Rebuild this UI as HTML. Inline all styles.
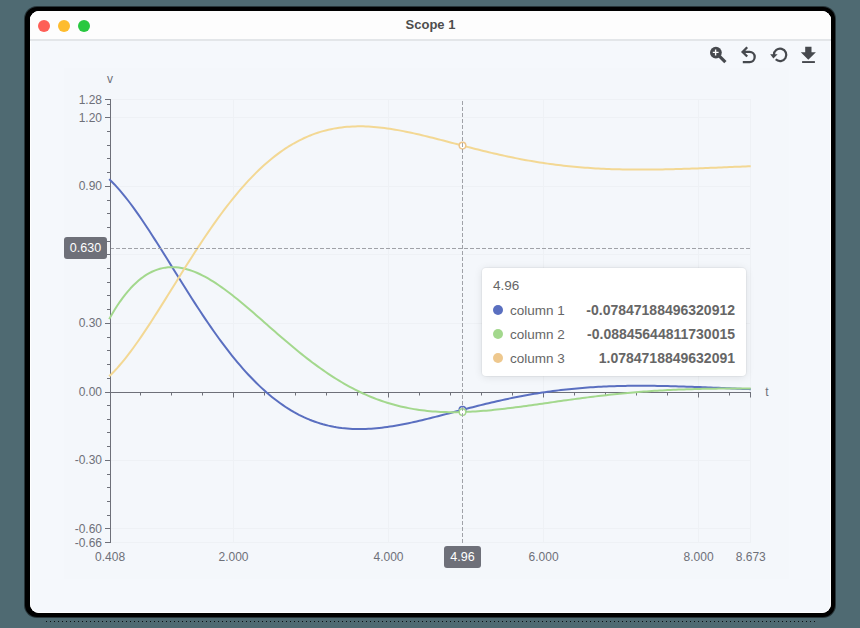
<!DOCTYPE html>
<html><head><meta charset="utf-8">
<style>
html,body{margin:0;padding:0;}
body{width:860px;height:628px;background:#4f6a72;position:relative;overflow:hidden;font-family:"Liberation Sans",sans-serif;}
.win{position:absolute;left:25px;top:7px;width:810px;height:610px;background:#000;border-radius:12px;box-shadow:0 0 0 1px rgba(0,0,0,0.5);}
.inner{position:absolute;left:30px;top:11px;width:801px;height:602px;background:#f5f8fc;border-radius:9px;overflow:hidden;box-shadow:inset 0 0 0 1px #fff;}
.title{position:absolute;left:0;top:0;width:100%;height:28px;background:#fdfdfd;border-bottom:2px solid #e3e6e9;}
.tl{position:absolute;top:8.6px;width:12px;height:12px;border-radius:50%;}
.ttext{position:absolute;left:0;width:100%;top:6px;text-align:center;font-weight:bold;font-size:13px;color:#4d4d4d;}
svg{position:absolute;left:0;top:0;}
.panel{position:absolute;left:34px;top:57px;width:725px;height:511px;background:#f4f7fb;}
.tip{position:absolute;left:482px;top:268px;width:264px;height:108px;background:#fff;border-radius:4px;box-shadow:0 0 0 1px rgba(0,0,0,0.035),0 1px 8px rgba(0,0,0,0.1);box-sizing:border-box;font-size:14px;color:#666;}
.tip .h{position:absolute;left:11px;top:10px;font-size:13.5px;}
.tip .r{position:absolute;left:11px;width:242px;height:20px;}
.tip .d{position:absolute;left:0;top:5px;width:10px;height:10px;border-radius:50%;}
.tip .n{position:absolute;left:17px;top:2.5px;font-size:13.5px;}
.tip .v{position:absolute;right:0;top:2px;font-weight:bold;}
.apl{position:absolute;background:#6e7079;color:#fff;font-size:12.5px;border-radius:3px;text-align:center;}
</style></head><body>
<div class="win"></div>
<div style="position:absolute;left:46px;top:621px;width:769px;height:1px;background:repeating-linear-gradient(90deg,rgba(0,0,0,0.85) 0 1px,transparent 1px 4px);"></div>
<div class="inner"><div class="panel"></div>

 <div class="title">
  <div class="tl" style="left:8px;background:#fe5f57"></div>
  <div class="tl" style="left:28px;background:#febc2e"></div>
  <div class="tl" style="left:48px;background:#28c840"></div>
  <div class="ttext">Scope 1</div>
 </div>
</div>
<svg width="860" height="628" viewBox="0 0 860 628">
<g><line x1="111" x2="751" y1="99.5" y2="99.5" stroke="#eef1f5" stroke-width="1"/><line x1="111" x2="751" y1="117.5" y2="117.5" stroke="#eef1f5" stroke-width="1"/><line x1="111" x2="751" y1="186.5" y2="186.5" stroke="#eef1f5" stroke-width="1"/><line x1="111" x2="751" y1="254.5" y2="254.5" stroke="#eef1f5" stroke-width="1"/><line x1="111" x2="751" y1="323.5" y2="323.5" stroke="#eef1f5" stroke-width="1"/><line x1="111" x2="751" y1="460.5" y2="460.5" stroke="#eef1f5" stroke-width="1"/><line x1="111" x2="751" y1="528.5" y2="528.5" stroke="#eef1f5" stroke-width="1"/><line x1="111" x2="751" y1="542.5" y2="542.5" stroke="#eef1f5" stroke-width="1"/><line x1="233.5" x2="233.5" y1="100" y2="543" stroke="#eef1f5" stroke-width="1"/><line x1="388.5" x2="388.5" y1="100" y2="543" stroke="#eef1f5" stroke-width="1"/><line x1="543.5" x2="543.5" y1="100" y2="543" stroke="#eef1f5" stroke-width="1"/><line x1="698.5" x2="698.5" y1="100" y2="543" stroke="#eef1f5" stroke-width="1"/><line x1="750.5" x2="750.5" y1="100" y2="543" stroke="#eef1f5" stroke-width="1"/><line x1="110.5" x2="110.5" y1="99" y2="543" stroke="#6e7079" stroke-width="1"/><line x1="105" x2="110" y1="99.5" y2="99.5" stroke="#6e7079" stroke-width="1"/><line x1="105" x2="110" y1="117.5" y2="117.5" stroke="#6e7079" stroke-width="1"/><line x1="105" x2="110" y1="186.5" y2="186.5" stroke="#6e7079" stroke-width="1"/><line x1="105" x2="110" y1="254.5" y2="254.5" stroke="#6e7079" stroke-width="1"/><line x1="105" x2="110" y1="323.5" y2="323.5" stroke="#6e7079" stroke-width="1"/><line x1="105" x2="110" y1="392.5" y2="392.5" stroke="#6e7079" stroke-width="1"/><line x1="105" x2="110" y1="460.5" y2="460.5" stroke="#6e7079" stroke-width="1"/><line x1="105" x2="110" y1="528.5" y2="528.5" stroke="#6e7079" stroke-width="1"/><line x1="105" x2="110" y1="542.5" y2="542.5" stroke="#6e7079" stroke-width="1"/><line x1="107" x2="110" y1="104.5" y2="104.5" stroke="#6e7079" stroke-width="1"/><line x1="107" x2="110" y1="131.5" y2="131.5" stroke="#6e7079" stroke-width="1"/><line x1="107" x2="110" y1="145.5" y2="145.5" stroke="#6e7079" stroke-width="1"/><line x1="107" x2="110" y1="158.5" y2="158.5" stroke="#6e7079" stroke-width="1"/><line x1="107" x2="110" y1="172.5" y2="172.5" stroke="#6e7079" stroke-width="1"/><line x1="107" x2="110" y1="200.5" y2="200.5" stroke="#6e7079" stroke-width="1"/><line x1="107" x2="110" y1="213.5" y2="213.5" stroke="#6e7079" stroke-width="1"/><line x1="107" x2="110" y1="227.5" y2="227.5" stroke="#6e7079" stroke-width="1"/><line x1="107" x2="110" y1="241.5" y2="241.5" stroke="#6e7079" stroke-width="1"/><line x1="107" x2="110" y1="268.5" y2="268.5" stroke="#6e7079" stroke-width="1"/><line x1="107" x2="110" y1="282.5" y2="282.5" stroke="#6e7079" stroke-width="1"/><line x1="107" x2="110" y1="295.5" y2="295.5" stroke="#6e7079" stroke-width="1"/><line x1="107" x2="110" y1="309.5" y2="309.5" stroke="#6e7079" stroke-width="1"/><line x1="107" x2="110" y1="337.5" y2="337.5" stroke="#6e7079" stroke-width="1"/><line x1="107" x2="110" y1="350.5" y2="350.5" stroke="#6e7079" stroke-width="1"/><line x1="107" x2="110" y1="364.5" y2="364.5" stroke="#6e7079" stroke-width="1"/><line x1="107" x2="110" y1="378.5" y2="378.5" stroke="#6e7079" stroke-width="1"/><line x1="107" x2="110" y1="405.5" y2="405.5" stroke="#6e7079" stroke-width="1"/><line x1="107" x2="110" y1="419.5" y2="419.5" stroke="#6e7079" stroke-width="1"/><line x1="107" x2="110" y1="432.5" y2="432.5" stroke="#6e7079" stroke-width="1"/><line x1="107" x2="110" y1="446.5" y2="446.5" stroke="#6e7079" stroke-width="1"/><line x1="107" x2="110" y1="474.5" y2="474.5" stroke="#6e7079" stroke-width="1"/><line x1="107" x2="110" y1="487.5" y2="487.5" stroke="#6e7079" stroke-width="1"/><line x1="107" x2="110" y1="501.5" y2="501.5" stroke="#6e7079" stroke-width="1"/><line x1="107" x2="110" y1="515.5" y2="515.5" stroke="#6e7079" stroke-width="1"/><line x1="110" x2="751" y1="392.5" y2="392.5" stroke="#6e7079" stroke-width="1"/><line x1="110.5" x2="110.5" y1="392.5" y2="397.5" stroke="#6e7079" stroke-width="1"/><line x1="233.5" x2="233.5" y1="392.5" y2="397.5" stroke="#6e7079" stroke-width="1"/><line x1="388.5" x2="388.5" y1="392.5" y2="397.5" stroke="#6e7079" stroke-width="1"/><line x1="543.5" x2="543.5" y1="392.5" y2="397.5" stroke="#6e7079" stroke-width="1"/><line x1="698.5" x2="698.5" y1="392.5" y2="397.5" stroke="#6e7079" stroke-width="1"/><line x1="750.5" x2="750.5" y1="392.5" y2="397.5" stroke="#6e7079" stroke-width="1"/><line x1="140.5" x2="140.5" y1="392.5" y2="395.5" stroke="#6e7079" stroke-width="1"/><line x1="171.5" x2="171.5" y1="392.5" y2="395.5" stroke="#6e7079" stroke-width="1"/><line x1="202.5" x2="202.5" y1="392.5" y2="395.5" stroke="#6e7079" stroke-width="1"/><line x1="264.5" x2="264.5" y1="392.5" y2="395.5" stroke="#6e7079" stroke-width="1"/><line x1="295.5" x2="295.5" y1="392.5" y2="395.5" stroke="#6e7079" stroke-width="1"/><line x1="326.5" x2="326.5" y1="392.5" y2="395.5" stroke="#6e7079" stroke-width="1"/><line x1="357.5" x2="357.5" y1="392.5" y2="395.5" stroke="#6e7079" stroke-width="1"/><line x1="419.5" x2="419.5" y1="392.5" y2="395.5" stroke="#6e7079" stroke-width="1"/><line x1="450.5" x2="450.5" y1="392.5" y2="395.5" stroke="#6e7079" stroke-width="1"/><line x1="481.5" x2="481.5" y1="392.5" y2="395.5" stroke="#6e7079" stroke-width="1"/><line x1="512.5" x2="512.5" y1="392.5" y2="395.5" stroke="#6e7079" stroke-width="1"/><line x1="574.5" x2="574.5" y1="392.5" y2="395.5" stroke="#6e7079" stroke-width="1"/><line x1="605.5" x2="605.5" y1="392.5" y2="395.5" stroke="#6e7079" stroke-width="1"/><line x1="636.5" x2="636.5" y1="392.5" y2="395.5" stroke="#6e7079" stroke-width="1"/><line x1="667.5" x2="667.5" y1="392.5" y2="395.5" stroke="#6e7079" stroke-width="1"/><line x1="729.5" x2="729.5" y1="392.5" y2="395.5" stroke="#6e7079" stroke-width="1"/></g>
<g font-family="Liberation Sans" font-size="12" fill="#6e7079"><text x="102" y="103.62599999999998" text-anchor="end">1.28</text><text x="102" y="121.89000000000004" text-anchor="end">1.20</text><text x="102" y="190.38" text-anchor="end">0.90</text><text x="102" y="327.36" text-anchor="end">0.30</text><text x="102" y="395.85" text-anchor="end">0.00</text><text x="102" y="464.34000000000003" text-anchor="end">-0.30</text><text x="102" y="532.83" text-anchor="end">-0.60</text><text x="102" y="546.528" text-anchor="end">-0.66</text><text x="110.086936" y="560.7" text-anchor="middle">0.408</text><text x="233.49399999999997" y="560.7" text-anchor="middle">2.000</text><text x="388.52799999999996" y="560.7" text-anchor="middle">4.000</text><text x="543.562" y="560.7" text-anchor="middle">6.000</text><text x="698.596" y="560.7" text-anchor="middle">8.000</text><text x="750.764941" y="560.7" text-anchor="middle">8.673</text><text x="110" y="83" text-anchor="middle">v</text><text x="767" y="396" text-anchor="middle">t</text></g>
<g><path d="M109.16,179.10 L111.83,181.69 L114.50,184.44 L117.18,187.34 L119.85,190.38 L122.52,193.55 L125.20,196.84 L127.87,200.25 L130.54,203.77 L133.22,207.39 L135.89,211.11 L138.56,214.90 L141.24,218.78 L143.91,222.73 L146.58,226.74 L149.26,230.81 L151.93,234.93 L154.60,239.09 L157.28,243.29 L159.95,247.52 L162.62,251.78 L165.30,256.05 L167.97,260.34 L170.64,264.64 L173.32,268.94 L175.99,273.24 L178.66,277.53 L181.34,281.81 L184.01,286.07 L186.68,290.32 L189.36,294.53 L192.03,298.72 L194.70,302.88 L197.38,307.00 L200.05,311.07 L202.72,315.11 L205.40,319.09 L208.07,323.03 L210.74,326.92 L213.42,330.74 L216.09,334.51 L218.76,338.22 L221.44,341.87 L224.11,345.45 L226.78,348.96 L229.46,352.41 L232.13,355.78 L234.81,359.08 L237.48,362.31 L240.15,365.47 L242.83,368.54 L245.50,371.54 L248.17,374.47 L250.85,377.31 L253.52,380.07 L256.19,382.76 L258.87,385.36 L261.54,387.88 L264.21,390.33 L266.89,392.69 L269.56,394.97 L272.23,397.17 L274.91,399.29 L277.58,401.32 L280.25,403.28 L282.93,405.16 L285.60,406.96 L288.27,408.68 L290.95,410.32 L293.62,411.89 L296.29,413.37 L298.97,414.79 L301.64,416.12 L304.31,417.39 L306.99,418.58 L309.66,419.70 L312.33,420.75 L315.01,421.73 L317.68,422.64 L320.35,423.49 L323.03,424.27 L325.70,424.98 L328.37,425.63 L331.05,426.22 L333.72,426.76 L336.39,427.23 L339.07,427.64 L341.74,428.00 L344.41,428.30 L347.09,428.55 L349.76,428.75 L352.43,428.90 L355.11,429.01 L357.78,429.06 L360.45,429.07 L363.13,429.03 L365.80,428.96 L368.47,428.84 L371.15,428.68 L373.82,428.49 L376.49,428.26 L379.17,427.99 L381.84,427.69 L384.51,427.36 L387.19,427.00 L389.86,426.61 L392.53,426.19 L395.21,425.75 L397.88,425.28 L400.55,424.79 L403.23,424.28 L405.90,423.74 L408.57,423.19 L411.25,422.62 L413.92,422.03 L416.59,421.43 L419.27,420.81 L421.94,420.18 L424.61,419.54 L427.29,418.89 L429.96,418.23 L432.63,417.56 L435.31,416.88 L437.98,416.20 L440.65,415.51 L443.33,414.82 L446.00,414.12 L448.67,413.42 L451.35,412.72 L454.02,412.02 L456.69,411.32 L459.37,410.62 L462.04,409.92 L464.71,409.22 L467.39,408.53 L470.06,407.84 L472.73,407.16 L475.41,406.48 L478.08,405.81 L480.75,405.14 L483.43,404.48 L486.10,403.83 L488.77,403.19 L491.45,402.55 L494.12,401.93 L496.80,401.31 L499.47,400.70 L502.14,400.11 L504.82,399.52 L507.49,398.95 L510.16,398.38 L512.84,397.83 L515.51,397.29 L518.18,396.76 L520.86,396.25 L523.53,395.74 L526.20,395.25 L528.88,394.77 L531.55,394.31 L534.22,393.85 L536.90,393.41 L539.57,392.99 L542.24,392.57 L544.92,392.17 L547.59,391.78 L550.26,391.41 L552.94,391.05 L555.61,390.70 L558.28,390.37 L560.96,390.04 L563.63,389.74 L566.30,389.44 L568.98,389.16 L571.65,388.89 L574.32,388.63 L577.00,388.39 L579.67,388.15 L582.34,387.93 L585.02,387.72 L587.69,387.53 L590.36,387.34 L593.04,387.17 L595.71,387.01 L598.38,386.86 L601.06,386.72 L603.73,386.59 L606.40,386.47 L609.08,386.36 L611.75,386.26 L614.42,386.17 L617.10,386.10 L619.77,386.03 L622.44,385.97 L625.12,385.92 L627.79,385.87 L630.46,385.84 L633.14,385.81 L635.81,385.79 L638.48,385.78 L641.16,385.78 L643.83,385.79 L646.50,385.80 L649.18,385.82 L651.85,385.84 L654.52,385.87 L657.20,385.91 L659.87,385.95 L662.54,386.00 L665.22,386.05 L667.89,386.11 L670.56,386.17 L673.24,386.24 L675.91,386.31 L678.58,386.39 L681.26,386.46 L683.93,386.55 L686.60,386.63 L689.28,386.72 L691.95,386.82 L694.62,386.91 L697.30,387.01 L699.97,387.11 L702.64,387.21 L705.32,387.32 L707.99,387.42 L710.66,387.53 L713.34,387.64 L716.01,387.75 L718.68,387.86 L721.36,387.97 L724.03,388.08 L726.70,388.20 L729.38,388.31 L732.05,388.43 L734.72,388.54 L737.40,388.65 L740.07,388.77 L742.74,388.88 L745.42,389.00 L748.09,389.11 L750.76,389.22" fill="none" stroke="#5a6fc0" stroke-width="2" stroke-linejoin="round"/><path d="M109.16,319.13 L111.83,314.43 L114.50,309.97 L117.18,305.77 L119.85,301.80 L122.52,298.08 L125.20,294.59 L127.87,291.34 L130.54,288.31 L133.22,285.50 L135.89,282.92 L138.56,280.55 L141.24,278.39 L143.91,276.44 L146.58,274.68 L149.26,273.13 L151.93,271.76 L154.60,270.58 L157.28,269.59 L159.95,268.77 L162.62,268.12 L165.30,267.64 L167.97,267.32 L170.64,267.16 L173.32,267.14 L175.99,267.28 L178.66,267.55 L181.34,267.96 L184.01,268.51 L186.68,269.17 L189.36,269.96 L192.03,270.87 L194.70,271.88 L197.38,273.00 L200.05,274.23 L202.72,275.54 L205.40,276.95 L208.07,278.45 L210.74,280.03 L213.42,281.68 L216.09,283.41 L218.76,285.21 L221.44,287.06 L224.11,288.98 L226.78,290.96 L229.46,292.98 L232.13,295.06 L234.81,297.17 L237.48,299.32 L240.15,301.51 L242.83,303.73 L245.50,305.98 L248.17,308.26 L250.85,310.55 L253.52,312.86 L256.19,315.18 L258.87,317.52 L261.54,319.86 L264.21,322.21 L266.89,324.56 L269.56,326.91 L272.23,329.25 L274.91,331.59 L277.58,333.92 L280.25,336.24 L282.93,338.54 L285.60,340.83 L288.27,343.10 L290.95,345.36 L293.62,347.59 L296.29,349.79 L298.97,351.97 L301.64,354.12 L304.31,356.25 L306.99,358.34 L309.66,360.40 L312.33,362.43 L315.01,364.42 L317.68,366.38 L320.35,368.30 L323.03,370.19 L325.70,372.03 L328.37,373.84 L331.05,375.61 L333.72,377.33 L336.39,379.01 L339.07,380.66 L341.74,382.26 L344.41,383.81 L347.09,385.32 L349.76,386.79 L352.43,388.22 L355.11,389.60 L357.78,390.94 L360.45,392.23 L363.13,393.48 L365.80,394.68 L368.47,395.84 L371.15,396.96 L373.82,398.03 L376.49,399.06 L379.17,400.04 L381.84,400.99 L384.51,401.89 L387.19,402.74 L389.86,403.56 L392.53,404.33 L395.21,405.07 L397.88,405.76 L400.55,406.41 L403.23,407.03 L405.90,407.60 L408.57,408.14 L411.25,408.64 L413.92,409.11 L416.59,409.53 L419.27,409.93 L421.94,410.29 L424.61,410.61 L427.29,410.90 L429.96,411.16 L432.63,411.39 L435.31,411.59 L437.98,411.75 L440.65,411.89 L443.33,412.00 L446.00,412.09 L448.67,412.14 L451.35,412.18 L454.02,412.18 L456.69,412.17 L459.37,412.12 L462.04,412.06 L464.71,411.98 L467.39,411.87 L470.06,411.75 L472.73,411.60 L475.41,411.44 L478.08,411.26 L480.75,411.06 L483.43,410.85 L486.10,410.63 L488.77,410.38 L491.45,410.13 L494.12,409.86 L496.80,409.58 L499.47,409.29 L502.14,408.99 L504.82,408.68 L507.49,408.36 L510.16,408.03 L512.84,407.69 L515.51,407.35 L518.18,407.00 L520.86,406.64 L523.53,406.28 L526.20,405.92 L528.88,405.55 L531.55,405.17 L534.22,404.80 L536.90,404.42 L539.57,404.04 L542.24,403.66 L544.92,403.27 L547.59,402.89 L550.26,402.51 L552.94,402.13 L555.61,401.74 L558.28,401.36 L560.96,400.99 L563.63,400.61 L566.30,400.24 L568.98,399.87 L571.65,399.50 L574.32,399.13 L577.00,398.77 L579.67,398.42 L582.34,398.07 L585.02,397.72 L587.69,397.38 L590.36,397.04 L593.04,396.71 L595.71,396.38 L598.38,396.06 L601.06,395.75 L603.73,395.44 L606.40,395.14 L609.08,394.84 L611.75,394.55 L614.42,394.27 L617.10,393.99 L619.77,393.72 L622.44,393.46 L625.12,393.21 L627.79,392.96 L630.46,392.72 L633.14,392.48 L635.81,392.26 L638.48,392.04 L641.16,391.83 L643.83,391.62 L646.50,391.42 L649.18,391.23 L651.85,391.05 L654.52,390.87 L657.20,390.71 L659.87,390.54 L662.54,390.39 L665.22,390.24 L667.89,390.10 L670.56,389.97 L673.24,389.84 L675.91,389.72 L678.58,389.60 L681.26,389.49 L683.93,389.39 L686.60,389.30 L689.28,389.21 L691.95,389.13 L694.62,389.05 L697.30,388.98 L699.97,388.91 L702.64,388.85 L705.32,388.80 L707.99,388.75 L710.66,388.71 L713.34,388.67 L716.01,388.64 L718.68,388.61 L721.36,388.59 L724.03,388.57 L726.70,388.55 L729.38,388.54 L732.05,388.54 L734.72,388.53 L737.40,388.54 L740.07,388.54 L742.74,388.55 L745.42,388.57 L748.09,388.58 L750.76,388.60" fill="none" stroke="#a3d88d" stroke-width="2" stroke-linejoin="round"/><path d="M109.16,376.30 L111.83,373.71 L114.50,370.96 L117.18,368.06 L119.85,365.02 L122.52,361.85 L125.20,358.56 L127.87,355.15 L130.54,351.63 L133.22,348.01 L135.89,344.29 L138.56,340.50 L141.24,336.62 L143.91,332.67 L146.58,328.66 L149.26,324.59 L151.93,320.47 L154.60,316.31 L157.28,312.11 L159.95,307.88 L162.62,303.62 L165.30,299.35 L167.97,295.06 L170.64,290.76 L173.32,286.46 L175.99,282.16 L178.66,277.87 L181.34,273.59 L184.01,269.33 L186.68,265.08 L189.36,260.87 L192.03,256.68 L194.70,252.52 L197.38,248.40 L200.05,244.33 L202.72,240.29 L205.40,236.31 L208.07,232.37 L210.74,228.48 L213.42,224.66 L216.09,220.89 L218.76,217.18 L221.44,213.53 L224.11,209.95 L226.78,206.44 L229.46,202.99 L232.13,199.62 L234.81,196.32 L237.48,193.09 L240.15,189.93 L242.83,186.86 L245.50,183.86 L248.17,180.93 L250.85,178.09 L253.52,175.33 L256.19,172.64 L258.87,170.04 L261.54,167.52 L264.21,165.07 L266.89,162.71 L269.56,160.43 L272.23,158.23 L274.91,156.11 L277.58,154.08 L280.25,152.12 L282.93,150.24 L285.60,148.44 L288.27,146.72 L290.95,145.08 L293.62,143.51 L296.29,142.03 L298.97,140.61 L301.64,139.28 L304.31,138.01 L306.99,136.82 L309.66,135.70 L312.33,134.65 L315.01,133.67 L317.68,132.76 L320.35,131.91 L323.03,131.13 L325.70,130.42 L328.37,129.77 L331.05,129.18 L333.72,128.64 L336.39,128.17 L339.07,127.76 L341.74,127.40 L344.41,127.10 L347.09,126.85 L349.76,126.65 L352.43,126.50 L355.11,126.39 L357.78,126.34 L360.45,126.33 L363.13,126.37 L365.80,126.44 L368.47,126.56 L371.15,126.72 L373.82,126.91 L376.49,127.14 L379.17,127.41 L381.84,127.71 L384.51,128.04 L387.19,128.40 L389.86,128.79 L392.53,129.21 L395.21,129.65 L397.88,130.12 L400.55,130.61 L403.23,131.12 L405.90,131.66 L408.57,132.21 L411.25,132.78 L413.92,133.37 L416.59,133.97 L419.27,134.59 L421.94,135.22 L424.61,135.86 L427.29,136.51 L429.96,137.17 L432.63,137.84 L435.31,138.52 L437.98,139.20 L440.65,139.89 L443.33,140.58 L446.00,141.28 L448.67,141.98 L451.35,142.68 L454.02,143.38 L456.69,144.08 L459.37,144.78 L462.04,145.48 L464.71,146.18 L467.39,146.87 L470.06,147.56 L472.73,148.24 L475.41,148.92 L478.08,149.59 L480.75,150.26 L483.43,150.92 L486.10,151.57 L488.77,152.21 L491.45,152.85 L494.12,153.47 L496.80,154.09 L499.47,154.70 L502.14,155.29 L504.82,155.88 L507.49,156.45 L510.16,157.02 L512.84,157.57 L515.51,158.11 L518.18,158.64 L520.86,159.15 L523.53,159.66 L526.20,160.15 L528.88,160.63 L531.55,161.09 L534.22,161.55 L536.90,161.99 L539.57,162.41 L542.24,162.83 L544.92,163.23 L547.59,163.62 L550.26,163.99 L552.94,164.35 L555.61,164.70 L558.28,165.03 L560.96,165.36 L563.63,165.66 L566.30,165.96 L568.98,166.24 L571.65,166.51 L574.32,166.77 L577.00,167.01 L579.67,167.25 L582.34,167.47 L585.02,167.68 L587.69,167.87 L590.36,168.06 L593.04,168.23 L595.71,168.39 L598.38,168.54 L601.06,168.68 L603.73,168.81 L606.40,168.93 L609.08,169.04 L611.75,169.14 L614.42,169.23 L617.10,169.30 L619.77,169.37 L622.44,169.43 L625.12,169.48 L627.79,169.53 L630.46,169.56 L633.14,169.59 L635.81,169.61 L638.48,169.62 L641.16,169.62 L643.83,169.61 L646.50,169.60 L649.18,169.58 L651.85,169.56 L654.52,169.53 L657.20,169.49 L659.87,169.45 L662.54,169.40 L665.22,169.35 L667.89,169.29 L670.56,169.23 L673.24,169.16 L675.91,169.09 L678.58,169.01 L681.26,168.94 L683.93,168.85 L686.60,168.77 L689.28,168.68 L691.95,168.58 L694.62,168.49 L697.30,168.39 L699.97,168.29 L702.64,168.19 L705.32,168.08 L707.99,167.98 L710.66,167.87 L713.34,167.76 L716.01,167.65 L718.68,167.54 L721.36,167.43 L724.03,167.32 L726.70,167.20 L729.38,167.09 L732.05,166.97 L734.72,166.86 L737.40,166.75 L740.07,166.63 L742.74,166.52 L745.42,166.40 L748.09,166.29 L750.76,166.18" fill="none" stroke="#f3d894" stroke-width="2" stroke-linejoin="round"/></g>
<g><circle cx="462.5" cy="409.79" r="3.3" fill="#fff" stroke="#5a6fc0" stroke-width="1.5"/><circle cx="462.5" cy="412.05" r="3.3" fill="#fff" stroke="#a3d88d" stroke-width="1.5"/><circle cx="462.5" cy="145.61" r="3.3" fill="#fff" stroke="#eec68c" stroke-width="1.5"/></g>
<g><line x1="111" x2="751" y1="248.5" y2="248.5" stroke="#a0a2a8" stroke-width="1" stroke-dasharray="4 2" stroke-dashoffset="1"/><line x1="462.5" x2="462.5" y1="100" y2="543" stroke="#a0a2a8" stroke-width="1" stroke-dasharray="4 2" stroke-dashoffset="-1"/></g>
<g fill="#46494e">
<circle cx="715.9" cy="52.6" r="5.9"/>
<path d="M712.8,52.4 H718.6 M715.6,49.6 V55.4" stroke="#fff" stroke-width="1.4" fill="none"/>
<path d="M719.6,56.4 L725.4,62.2" stroke="#46494e" stroke-width="3.2" fill="none"/>
<path d="M747.2,47.3 L742.6,51.9 L747.2,56.5 M742.6,51.9 H749.6 A5.07,5.07 0 0 1 749.6,62.05 H742.8" stroke="#46494e" stroke-width="2.3" fill="none" stroke-linejoin="miter"/>
<path d="M773.9,54.9 A6.2,6.2 0 1 1 775.72,59.28" stroke="#46494e" stroke-width="2.2" fill="none"/>
<path d="M770.2,54.3 L777.6,54.3 L773.4,58.6 Z"/>
<path d="M805.2,46.8 H811.5 V52.3 H815.9 L808.3,59.8 L800.8,52.3 H805.2 Z"/>
<rect x="802.1" y="61.1" width="12.8" height="1.9"/>
</g>
</svg>
<div class="apl" style="left:64px;top:237px;width:43px;height:21.5px;line-height:23px;">0.630</div>
<div class="apl" style="left:444px;top:546px;width:37px;height:22px;line-height:23px;">4.96</div>
<div class="tip">
 <div class="h">4.96</div>
 <div class="r" style="top:32px"><div class="d" style="background:#5a6fc0"></div><div class="n">column 1</div><div class="v">-0.07847188496320912</div></div>
 <div class="r" style="top:56px"><div class="d" style="background:#a3d88d"></div><div class="n">column 2</div><div class="v">-0.08845644811730015</div></div>
 <div class="r" style="top:80px"><div class="d" style="background:#eec88e"></div><div class="n">column 3</div><div class="v">1.0784718849632091</div></div>
</div>
</body></html>
